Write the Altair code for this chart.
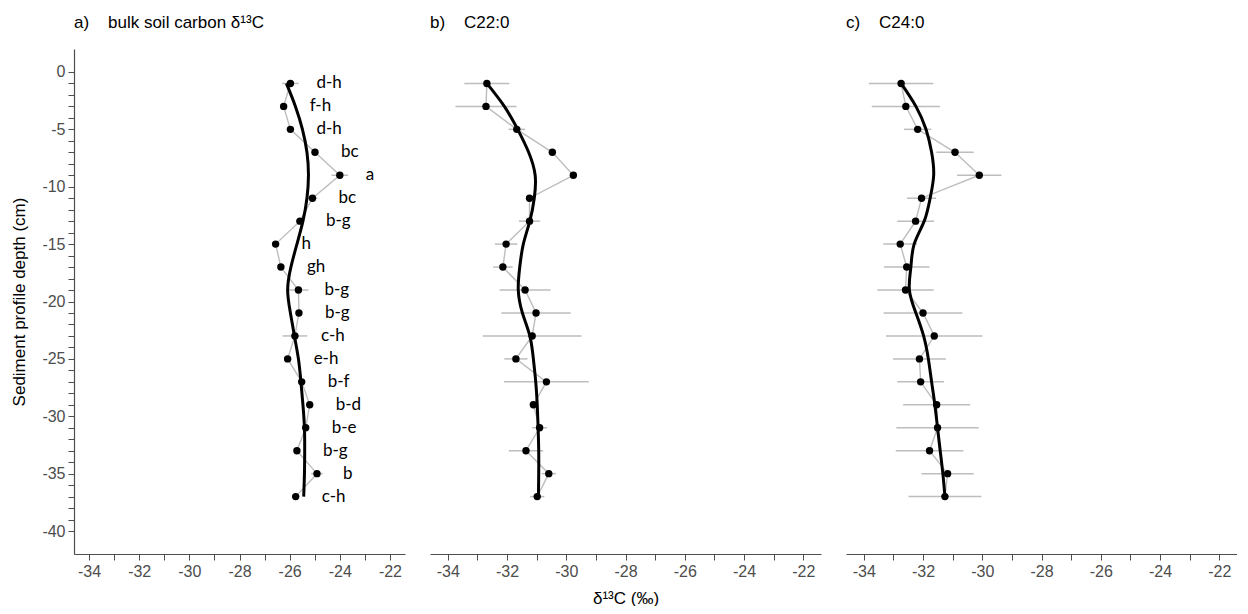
import altair as alt
import pandas as pd

# ---------------- data ----------------
depth = [-1, -3, -5, -7, -9, -11, -13, -15, -17, -19, -21, -23, -25, -27, -29, -31, -33, -35, -37]

bulk_mean = [-25.97, -26.24, -25.97, -24.99, -24.00, -25.09, -25.59, -26.56, -26.35, -25.65,
             -25.63, -25.79, -26.08, -25.52, -25.20, -25.36, -25.71, -24.91, -25.76]
bulk_err = [0.33, 0.08, 0.08, 0.10, 0.33, 0.20, 0.15, 0.05, 0.05, 0.40,
            0.08, 0.49, 0.15, 0.08, 0.10, 0.08, 0.10, 0.23, 0.08]
bulk_smooth = [-26.13, -25.77, -25.49, -25.31, -25.25, -25.31, -25.47, -25.71, -25.95, -26.08,
               -25.97, -25.81, -25.65, -25.55, -25.47, -25.41, -25.40, -25.41, -25.44]
bulk_letters = ["d-h", "f-h", "d-h", "bc", "a", "bc", "b-g", "h", "gh", "b-g",
                "b-g", "c-h", "e-h", "b-f", "b-d", "b-e", "b-g", "b", "c-h"]

c22_mean = [-32.68, -32.71, -31.67, -30.47, -29.76, -31.24, -31.24, -32.03, -32.14, -31.39,
            -31.02, -31.15, -31.70, -30.67, -31.11, -30.90, -31.36, -30.59, -30.98]
c22_err = [0.76, 1.03, 0.28, 0.05, 0.05, 0.08, 0.36, 0.38, 0.33, 0.86,
           1.17, 1.67, 0.39, 1.43, 0.10, 0.25, 0.58, 0.24, 0.24]
c22_smooth = [-32.68, -32.09, -31.64, -31.27, -31.05, -31.08, -31.23, -31.45, -31.57, -31.62,
              -31.48, -31.23, -31.11, -31.03, -30.98, -30.95, -30.93, -30.93, -30.94]

c24_mean = [-32.74, -32.58, -32.18, -30.92, -30.10, -32.05, -32.25, -32.77, -32.55, -32.59,
            -32.00, -31.62, -32.12, -32.08, -31.54, -31.51, -31.78, -31.17, -31.26]
c24_err = [1.09, 1.15, 0.46, 0.63, 0.75, 0.49, 0.62, 0.57, 0.77, 0.95,
           1.33, 1.63, 0.89, 0.79, 1.13, 1.39, 1.14, 0.88, 1.23]
c24_smooth = [-32.74, -32.24, -31.90, -31.71, -31.64, -31.76, -31.96, -32.30, -32.41, -32.46,
              -32.24, -31.98, -31.82, -31.71, -31.60, -31.51, -31.42, -31.33, -31.26]

x_ticks = list(range(-34, -21))
y_ticks = list(range(-40, 1))
x_domain = [-34.6, -21.4]
y_domain = [-42, 2]

titles = ["a)\u00a0\u00a0\u00a0\u00a0bulk soil carbon \u03b4\u00b9\u00b3C",
          "b)\u00a0\u00a0\u00a0\u00a0C22:0",
          "c)\u00a0\u00a0\u00a0\u00a0C24:0"]
x_title = "\u03b4\u00b9\u00b3C (\u2030)"
y_title = "Sediment profile depth (cm)"

AX_FONT = "Liberation Sans"


def make_panel(mean, err, smooth, width, title, letters=None, show_y=False, xtitle=None):
    df = pd.DataFrame({"depth": depth, "value": mean, "err": err, "smooth": smooth})
    df["lo"] = df["value"] - df["err"]
    df["hi"] = df["value"] + df["err"]
    if letters is not None:
        df["letter"] = letters

    xscale = alt.Scale(domain=x_domain, nice=False, zero=False)
    yscale = alt.Scale(domain=y_domain, nice=False, zero=False)
    xaxis = alt.Axis(values=x_ticks,
                     labelExpr="datum.value % 2 == 0 ? toString(datum.value) : ''",
                     grid=False, tickSize=6, labelPadding=3, titlePadding=11)
    if show_y:
        yaxis = alt.Axis(values=y_ticks,
                         labelExpr="datum.value % 5 == 0 ? toString(datum.value) : ''",
                         grid=False, tickSize=6, labelPadding=3, titlePadding=13)
    else:
        yaxis = None

    def X(field):
        if xtitle is None:
            return alt.X(field, type="quantitative", scale=xscale, axis=xaxis, title=None)
        return alt.X(field, type="quantitative", scale=xscale, axis=xaxis, title=xtitle)

    def Y(field):
        if yaxis is None:
            return alt.Y(field, type="quantitative", scale=yscale, axis=None)
        return alt.Y(field, type="quantitative", scale=yscale, axis=yaxis, title=y_title)

    base = alt.Chart(df)
    bars = base.mark_rule(color="#bdbdbd", strokeWidth=1.5).encode(
        x=X("lo"), x2="hi", y=Y("depth"))
    grey = base.mark_line(color="#bdbdbd", strokeWidth=1.4).encode(
        x=X("value"), y=Y("depth"), order=alt.Order("depth", sort="descending"))
    smooth_l = base.mark_line(color="black", strokeWidth=3, interpolate="natural").encode(
        x=X("smooth"), y=Y("depth"), order=alt.Order("depth", sort="descending"))
    pts = base.mark_circle(color="black", size=55, opacity=1).encode(
        x=X("value"), y=Y("depth"))
    layers = [bars, grey, smooth_l, pts]
    if letters is not None:
        txt = base.mark_text(align="left", baseline="middle", dx=26, font="Lato",
                             fontSize=17, color="black").encode(
            x=X("value"), y=Y("depth"), text="letter:N")
        layers.append(txt)

    return alt.layer(*layers).properties(
        width=width, height=505,
        title=alt.TitleParams(title, anchor="start", frame="group", font=AX_FONT,
                              fontSize=17, fontWeight="normal", color="black", offset=17),
    )


pa = make_panel(bulk_mean, bulk_err, bulk_smooth, 331, titles[0], letters=bulk_letters, show_y=True)
pb = make_panel(c22_mean, c22_err, c22_smooth, 391, titles[1], xtitle=x_title)
pc = make_panel(c24_mean, c24_err, c24_smooth, 391, titles[2])

chart = alt.hconcat(pa, pb, pc, spacing=25).properties(
    padding={"left": 10, "top": 14, "right": 0, "bottom": 0},
    background="white",
).configure_view(stroke=None).configure_axis(
    labelFont=AX_FONT, labelFontSize=16, labelColor="#4d4d4d",
    titleFont=AX_FONT, titleFontSize=17, titleColor="black", titleFontWeight="normal",
    domainColor="#4d4d4d", domainWidth=1.2, tickColor="#4d4d4d", tickWidth=1,
)

chart.save("out.html", embed_options={"renderer": "svg", "actions": False})
